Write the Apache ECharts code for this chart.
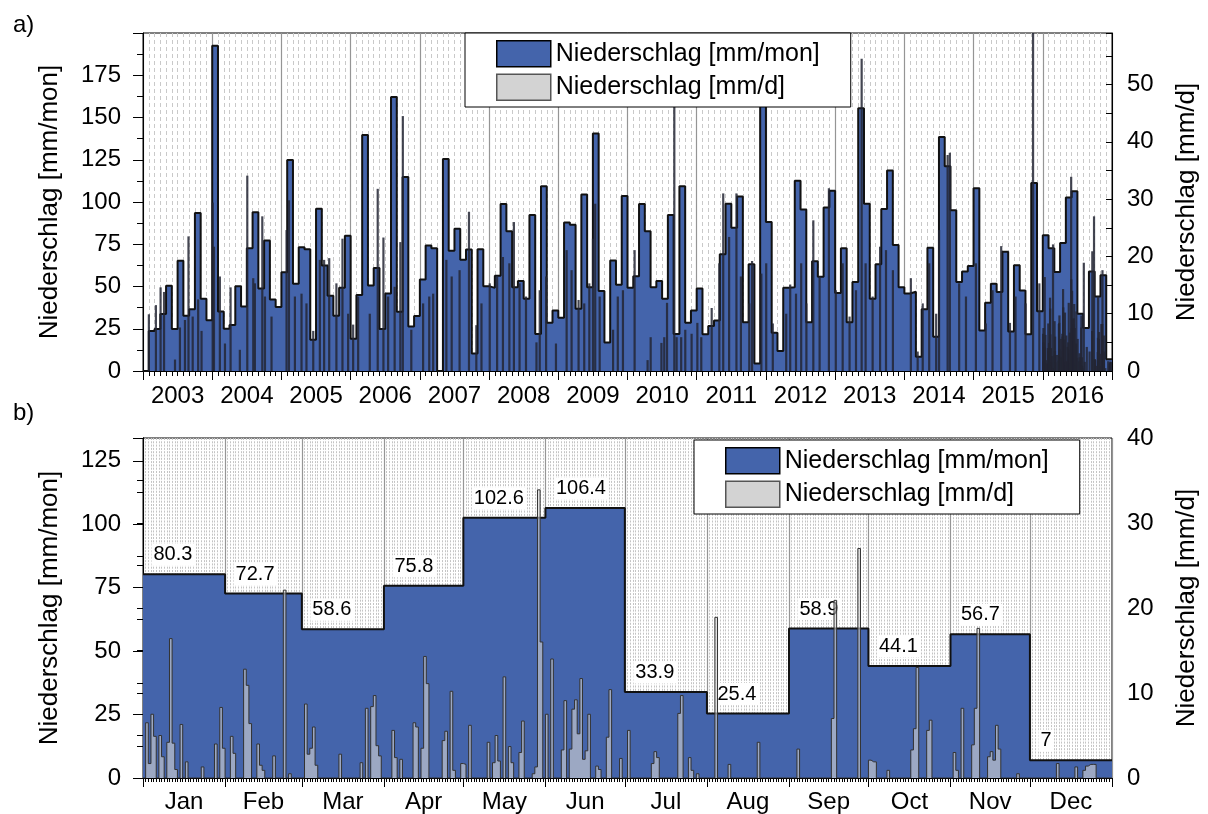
<!DOCTYPE html>
<html>
<head>
<meta charset="utf-8">
<script src="https://cdn.jsdelivr.net/npm/echarts@6.0.0/dist/echarts.min.js"></script>
<style>
  html, body { margin: 0; background: #fff; }
  #chart { width: 1208px; height: 814px; }
</style>
</head>
<body>
<div id="chart"></div>
<script>
// Achsenbeschriftungen
const years = ['2003', '2004', '2005', '2006', '2007', '2008', '2009', '2010', '2011', '2012', '2013', '2014', '2015', '2016'];
const monthNames = ['Jan', 'Feb', 'Mar', 'Apr', 'May', 'Jun', 'Jul', 'Aug', 'Sep', 'Oct', 'Nov', 'Dec'];

// Monatssummen 2003-2015 [mm/mon], eine Zeile je Jahr (2016 = monthlyB)
const monthlyA = [
  [0, 23.6, 24.8, 33.7, 50.4, 24.8, 65.2, 32.7, 36.6, 93.5, 42.7, 30.1],
  [192.5, 35.2, 25, 27.2, 50.2, 38.2, 72.6, 93.9, 48.8, 77.2, 42.3, 37.8],
  [58.5, 124.8, 51.6, 73.2, 72, 18.5, 96, 62.4, 44.5, 32.7, 49.2, 80],
  [19.1, 44.9, 139.6, 50.6, 61, 24.8, 45.9, 162.2, 35, 114.8, 26.4, 32.5],
  [54.1, 74.2, 72.6, 0, 125.4, 71.1, 84.1, 65.9, 71.9, 10.4, 72, 50.2],
  [49.2, 56.3, 98.8, 82.7, 49.6, 53.3, 42.7, 92.3, 21.9, 109.3, 28.5, 35.8],
  [31.5, 87.8, 86.6, 36.8, 104.5, 49.6, 140.6, 47.4, 16.9, 65.4, 51, 103.5],
  [49.2, 56.1, 98.8, 82.7, 49.6, 53.3, 42.7, 92.3, 21.9, 109.3, 28.5, 35.8],
  [48.8, 21.7, 26.6, 29.9, 69.1, 99, 84.8, 103.3, 28.9, 63.2, 4.5, 168],
  [88.2, 22.6, 11.8, 49.2, 49.6, 112.6, 95.5, 28.9, 65, 55.7, 96.7, 106.7],
  [46.1, 72.6, 28.9, 52.6, 155.5, 99, 42.7, 63.2, 95.9, 118.7, 74.6, 49.6],
  [45.9, 46.9, 8.5, 36.6, 73, 20.3, 138.4, 121.1, 95.1, 52.6, 58.9, 62.2],
  [108.1, 24, 40.4, 51.6, 46.7, 70.5, 23.4, 62.6, 47.6, 21.7, 111.2, 35.4]
];

// Monatssummen 2016 [mm/mon]
const monthlyB = [80.3, 72.7, 58.6, 75.8, 102.6, 106.4, 33.9, 25.4, 58.9, 44.1, 56.7, 7];

// sichtbare Tageswerte 2003-2015 [mm/d] (Datum, Wert)
const spikesA = [
  ['2003-02-01', 9.9], ['2003-03-08', 11.5], ['2003-04-02', 14.6], ['2003-04-20', 13.8], ['2003-06-17', 2],
  ['2003-07-13', 7.6], ['2003-08-09', 8.9], ['2003-08-28', 23.5], ['2003-09-19', 9.5], ['2003-10-18', 12.5], ['2003-11-05', 7],
  ['2004-01-03', 29.4], ['2004-01-10', 21.7], ['2004-02-10', 16.5], ['2004-03-07', 4.8], ['2004-04-06', 14.6], ['2004-05-25', 3.7],
  ['2004-07-03', 34.1], ['2004-08-04', 16.2], ['2004-08-13', 15.3], ['2004-09-21', 27], ['2004-10-05', 13], ['2004-11-09', 9.5],
  ['2005-01-28', 24.6], ['2005-02-09', 29.8], ['2005-03-11', 13], ['2005-04-15', 13.5], ['2005-05-11', 11.8], ['2005-06-16', 7],
  ['2005-07-21', 19.4], ['2005-08-13', 19.4], ['2005-09-09', 19.7], ['2005-10-17', 15.3], ['2005-11-18', 23.1], ['2005-12-18', 10],
  ['2006-01-14', 8.1], ['2006-02-09', 13], ['2006-04-10', 10], ['2006-05-22', 31.8], ['2006-06-21', 23.3], ['2006-07-16', 13],
  ['2006-08-20', 14.7], ['2006-09-19', 22.5], ['2006-10-02', 44.5], ['2006-11-16', 7.2],
  ['2007-01-18', 11.8], ['2007-02-18', 13], ['2007-03-10', 13.5], ['2007-05-19', 19.4], ['2007-06-16', 16.5], ['2007-07-28', 17.6],
  ['2007-09-16', 27.8], ['2007-10-25', 8], ['2007-11-21', 11.8],
  ['2008-01-04', 15.3], ['2008-02-12', 16.5], ['2008-03-13', 19.9], ['2008-04-16', 18.8], ['2008-05-10', 26], ['2008-06-09', 15.3],
  ['2008-07-13', 13], ['2008-09-07', 5], ['2008-09-24', 14.1], ['2008-10-28', 16.5], ['2008-12-19', 4.8],
  ['2009-02-13', 21.1], ['2009-03-10', 17.6], ['2009-04-16', 12.4], ['2009-05-16', 11.8], ['2009-06-12', 15.3], ['2009-07-01', 23.1],
  ['2009-07-13', 29.2], ['2009-08-06', 13], ['2009-10-16', 7.2], ['2009-11-10', 13], ['2009-12-07', 14.1],
  ['2010-02-07', 21.1], ['2010-04-15', 1.9], ['2010-05-01', 5.9], ['2010-06-27', 4.9], ['2010-07-12', 5.9], ['2010-07-27', 11.9],
  ['2010-09-04', 47], ['2010-09-16', 5.9], ['2010-10-10', 5.9], ['2010-11-01', 7.2], ['2010-12-04', 6.5],
  ['2011-01-04', 8.4], ['2011-01-25', 5.9], ['2011-03-19', 11], ['2011-04-28', 18.8], ['2011-05-19', 31], ['2011-06-19', 23.4],
  ['2011-07-28', 31], ['2011-08-21', 16.5], ['2011-10-04', 11.8], ['2011-10-19', 19.2], ['2011-12-07', 17],
  ['2012-01-02', 18.8], ['2012-02-06', 8.3], ['2012-04-16', 10], ['2012-05-07', 15.1], ['2012-06-07', 13.5], ['2012-07-04', 18.8],
  ['2012-08-01', 11.8], ['2012-09-07', 26.3], ['2012-10-10', 16.5], ['2012-11-28', 31.9],
  ['2013-01-04', 14.1], ['2013-02-09', 18.8], ['2013-03-16', 9.5], ['2013-04-19', 14.1], ['2013-05-19', 54.5], ['2013-06-09', 18.8],
  ['2013-07-16', 13], ['2013-08-25', 21.7], ['2013-09-25', 21.1], ['2013-11-01', 17.6],
  ['2014-02-04', 16.2], ['2014-03-10', 3.4], ['2014-04-06', 11.8], ['2014-05-10', 18.8], ['2014-06-16', 10], ['2014-07-01', 24.6],
  ['2014-08-16', 37.7], ['2014-08-28', 38.1], ['2014-10-16', 15.3], ['2014-11-21', 13],
  ['2015-01-13', 18.8], ['2015-03-04', 8.3], ['2015-04-09', 14.1], ['2015-05-25', 21.8], ['2015-07-10', 8.4], ['2015-08-09', 13],
  ['2015-10-01', 11.8], ['2015-11-10', 60], ['2015-12-13', 15.3]
];

// Tageswerte 2016 [mm/d] (Tag des Jahres ab 0, Wert); fehlende Tage = 0
const dailyB = [
  [1, 6.5], [2, 1.7], [3, 7.5], [4, 4.9], [6, 5], [7, 2.5], [9, 4.2], [10, 16.4], [11, 4.1], [12, 1], [14, 6.3], [16, 1.9],
  [22, 1.3], [27, 4], [29, 8.3], [30, 3.5], [33, 4.9], [34, 2.9], [38, 12.8], [39, 10.9], [40, 6.4], [43, 4], [44, 1.5],
  [45, 0.9], [49, 2.6], [53, 22.1], [55, 0.5], [61, 8.7], [62, 2.8], [63, 3.5], [64, 6], [65, 1.5], [74, 2.8], [82, 1.8],
  [84, 8.2], [86, 8.4], [87, 9.7], [88, 3.8], [89, 2.6], [94, 5.6], [95, 2.4], [97, 2.2], [102, 6.5], [103, 6], [105, 3.5],
  [106, 14.3], [107, 11.1], [113, 4.4], [114, 5.5], [116, 10.2], [117, 0.9], [120, 1.7], [121, 1.6], [123, 6.2], [130, 4.2],
  [132, 1.8], [133, 5], [134, 2], [136, 11.9], [138, 3.7], [139, 1.8], [142, 3], [143, 6.7], [147, 0.5], [148, 1.3],
  [149, 33.9], [150, 16], [152, 7.5], [154, 14], [158, 3.3], [159, 9.1], [161, 3.4], [162, 8.1], [163, 9.2], [164, 5.2],
  [165, 11.7], [166, 2.2], [167, 3.2], [168, 7.5], [171, 1.4], [172, 1], [175, 4.8], [176, 10.4], [180, 2.3], [183, 5.6],
  [192, 1.7], [193, 3.1], [194, 2.4], [202, 7.6], [203, 9.7], [206, 2.4], [207, 0.9], [209, 0.5], [216, 18.9], [221, 1.6],
  [232, 4.2], [247, 3.4], [260, 7], [261, 20.9], [270, 27], [274, 2.1], [275, 1.9], [276, 1.9], [281, 0.9], [290, 3.3],
  [291, 5.8], [292, 13], [296, 5.6], [297, 6.8], [306, 3], [307, 0.9], [309, 8.2], [313, 3.9], [314, 8.2], [315, 17.6],
  [319, 2.5], [320, 3.1], [321, 2.1], [322, 6.2], [323, 3.4], [330, 0.5], [345, 1.7], [352, 1.3], [355, 0.9], [356, 1.4],
  [357, 1.6], [358, 1.6], [359, 1.6]
];

// Monatsanfaenge 2016 (Schaltjahr) in Tagen
const monthStartB = [0, 31, 60, 91, 121, 152, 182, 213, 244, 274, 305, 335, 366];

const NAME_MON = 'Niederschlag [mm/mon]';
const NAME_DAY = 'Niederschlag [mm/d]';
const BLUE = '#4464ab';
const FONT = 'Liberation Sans, Arial, sans-serif';

// --- Daten aufbereiten ---
const allMonthly = monthlyA.flat().concat(monthlyB);
const stepA = allMonthly.map((v, i) => [i, v]);
stepA.push([allMonthly.length, allMonthly[allMonthly.length - 1]]);

function daysIn(y, m) { return new Date(y, m, 0).getDate(); }
const dailyAPts = spikesA.map(([d, v]) => {
  const [y, m, day] = d.split('-').map(Number);
  return [(y - 2003) * 12 + (m - 1) + (day - 0.5) / daysIn(y, m), v];
});
// 2016 Tageswerte ebenfalls in Teil a)
dailyB.forEach(([doy, v]) => {
  let m = 0;
  while (doy >= monthStartB[m + 1]) m++;
  const len = monthStartB[m + 1] - monthStartB[m];
  dailyAPts.push([156 + m + (doy - monthStartB[m] + 0.5) / len, v]);
});

const dailyBFull = new Array(366).fill(0);
dailyB.forEach(([d, v]) => { dailyBFull[d] = v; });
const stepBDay = dailyBFull.map((v, d) => [d, v]);
stepBDay.push([366, 0]);

const stepBMon = monthlyB.map((v, m) => [monthStartB[m], v]);
stepBMon.push([366, monthlyB[11]]);
const labelBMon = monthlyB.map((v, m) => [monthStartB[m], v]);

const monthMid = monthlyB.map((v, m) => (monthStartB[m] + monthStartB[m + 1]) / 2);
const yearMid = years.map((y, i) => i * 12 + 6);

const chart = echarts.init(document.getElementById('chart'));

const labelFont = { fontSize: 24, color: '#000', fontFamily: FONT };
const nameFont = { fontSize: 26, color: '#000', fontFamily: FONT };
const blackLine = { lineStyle: { color: '#000', width: 1 } };

function yLeft(gridIndex, max) {
  return {
    type: 'value', gridIndex, position: 'left', min: 0, max, interval: 25,
    axisLine: { show: true, ...blackLine },
    axisTick: { show: true, inside: false, length: 10, ...blackLine },
    minorTick: { show: true, splitNumber: 2, length: 6, ...blackLine },
    splitLine: { show: false },
    axisLabel: { ...labelFont, margin: 22, showMaxLabel: false },
    name: NAME_MON, nameLocation: 'middle', nameGap: 80, nameRotate: 90, nameTextStyle: nameFont
  };
}
function yRight(gridIndex, max, showMax) {
  return {
    type: 'value', gridIndex, position: 'right', min: 0, max, interval: 10,
    axisLine: { show: true, ...blackLine },
    axisTick: { show: true, inside: true, length: 6, ...blackLine },
    minorTick: { show: true, splitNumber: 2, length: 6, ...blackLine },
    splitLine: { show: false },
    axisLabel: { ...labelFont, margin: 15, showMaxLabel: showMax },
    name: NAME_DAY, nameLocation: 'middle', nameGap: 62, nameRotate: 90, nameTextStyle: nameFont
  };
}

function legendAt(left, top) {
  return {
    left, top, orient: 'vertical',
    padding: [7, 31, 6, 31], itemWidth: 54, itemHeight: 26, itemGap: 6,
    borderColor: '#000', borderWidth: 1, backgroundColor: '#fff',
    textStyle: { fontSize: 25, color: '#000', fontFamily: FONT, lineHeight: 26 },
    selectedMode: false,
    data: [
      { name: NAME_MON, icon: 'rect', itemStyle: { color: BLUE, borderColor: '#000', borderWidth: 1.5 } },
      { name: NAME_DAY, icon: 'rect', itemStyle: { color: '#d3d3d3', borderColor: '#555', borderWidth: 1.5 } }
    ]
  };
}

const option = {
  animation: false,
  textStyle: { fontFamily: FONT },
  title: [
    { text: 'a)', left: 8, top: 8, textStyle: { fontSize: 24, fontWeight: 'normal', color: '#000', fontFamily: FONT } },
    { text: 'b)', left: 8, top: 396, textStyle: { fontSize: 24, fontWeight: 'normal', color: '#000', fontFamily: FONT } }
  ],
  legend: [legendAt(465, 33), legendAt(694, 440)],
  grid: [
    { left: 143, top: 33, width: 969, height: 338, show: true, borderColor: '#000', borderWidth: 1, backgroundColor: '#fff' },
    { left: 143, top: 438, width: 969, height: 340, show: true, borderColor: '#000', borderWidth: 1, backgroundColor: '#fff' }
  ],
  xAxis: [
    {
      type: 'value', gridIndex: 0, position: 'bottom', min: 0, max: 168, interval: 12,
      axisLine: { show: true, ...blackLine },
      axisTick: { show: true, length: 9, ...blackLine },
      minorTick: { show: true, splitNumber: 12, length: 5, ...blackLine },
      splitLine: { show: true, lineStyle: { color: '#959595', width: 1.2 } },
      minorSplitLine: { show: true, lineStyle: { color: '#c9c9c9', width: 1, type: [4, 3] } },
      axisLabel: {
        ...labelFont, margin: 13, customValues: yearMid,
        formatter: v => years[Math.round((v - 6) / 12)]
      }
    },
    {
      type: 'value', gridIndex: 1, position: 'bottom', min: 0, max: 366, interval: 1,
      axisLine: { show: true, ...blackLine },
      axisTick: { show: true, length: 4, ...blackLine },
      splitLine: { show: true, lineStyle: { color: '#c4c4c4', width: 1, type: [2, 1.3] } },
      axisLabel: { show: false }
    },
    {
      type: 'value', gridIndex: 1, position: 'bottom', min: 0, max: 366,
      axisLine: { show: true, ...blackLine },
      axisTick: { show: true, length: 9, customValues: monthStartB, ...blackLine },
      splitLine: { show: true, lineStyle: { color: '#959595', width: 1.2 } },
      axisLabel: {
        ...labelFont, margin: 12, customValues: monthMid,
        formatter: v => monthNames[monthMid.indexOf(v)]
      }
    }
  ],
  yAxis: [yLeft(0, 200), yRight(0, 59, false), yLeft(1, 134), yRight(1, 40, true)],
  series: [
    {
      name: NAME_MON, type: 'line', xAxisIndex: 0, yAxisIndex: 0, step: 'end',
      data: stepA, symbol: 'none', z: 2,
      itemStyle: { color: BLUE },
      lineStyle: { color: '#111', width: 2 },
      areaStyle: { color: BLUE, opacity: 1 }
    },
    {
      name: NAME_DAY, type: 'bar', xAxisIndex: 0, yAxisIndex: 1,
      data: dailyAPts, barWidth: 2.2, z: 3,
      itemStyle: { color: 'rgba(35,38,52,0.85)' }
    },
    {
      name: NAME_MON, type: 'line', xAxisIndex: 1, yAxisIndex: 2, step: 'end',
      data: stepBMon, symbol: 'none', z: 2,
      itemStyle: { color: BLUE },
      lineStyle: { color: '#111', width: 2 },
      areaStyle: { color: BLUE, opacity: 1 }
    },
    {
      name: NAME_MON, type: 'scatter', xAxisIndex: 1, yAxisIndex: 2,
      data: labelBMon, symbolSize: 1, z: 3, silent: true,
      itemStyle: { color: 'rgba(0,0,0,0)', opacity: 1 },
      label: {
        show: true, position: [9, -30], fontSize: 20, color: '#000', fontFamily: FONT,
        backgroundColor: '#fff', padding: [1, 2],
        formatter: p => String(p.value[1])
      }
    },
    {
      name: NAME_DAY, type: 'line', xAxisIndex: 1, yAxisIndex: 3, step: 'end',
      data: stepBDay, symbol: 'none', z: 4,
      itemStyle: { color: '#d3d3d3' },
      lineStyle: { color: '#333', width: 1 },
      areaStyle: { color: 'rgba(210,210,210,0.62)', opacity: 1 }
    }
  ]
};

chart.setOption(option);
</script>
</body>
</html>
